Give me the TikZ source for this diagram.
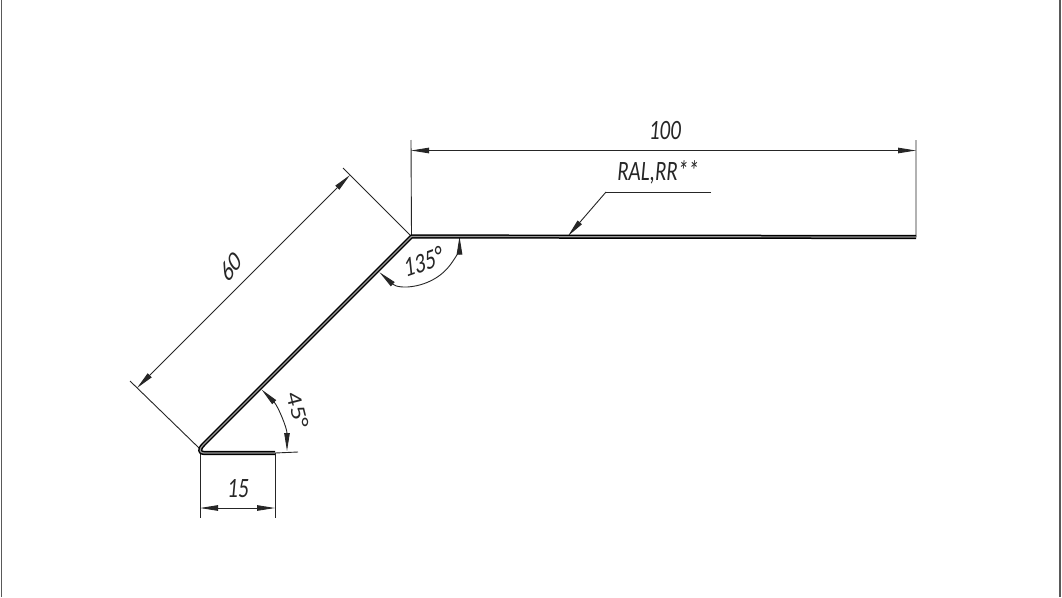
\documentclass[tikz,border=0pt]{standalone}
\usepackage{fontspec}
\setmainfont{Carlito}
\usetikzlibrary{arrows.meta}
\tikzset{
  thinline/.style={line width=0.9pt,draw=black!85},
  dimline/.style={thinline,{Stealth[length=18pt,width=5.5pt,inset=0pt]}-{Stealth[length=18pt,width=5.5pt,inset=0pt]}},
  onetip/.style={thinline,-{Stealth[length=18pt,width=5.5pt,inset=0pt]}},
  profile/.style={line width=1.5pt,draw=black,double=black!40,double distance=1.2pt,line join=round},
  lbl/.style={font=\fontsize{28}{28}\selectfont\itshape,text=black!85,inner sep=0pt,xscale=0.75}
}
\begin{document}
\begin{tikzpicture}[x=1pt,y=-1pt]
\useasboundingbox (0,0) rectangle (1062,597);
\fill[white] (0,0) rectangle (1062,597);
\draw[line width=1.5pt,draw=black!65] (1.5,0) -- (1.5,597) (1060,0) -- (1060,597);
% reference points
\coordinate (bend) at (411.5,236.5);
\coordinate (rend) at (916,237);
\coordinate (foot) at (200,450);
\coordinate (fend) at (275,453);
\coordinate (a100l) at (411,150.5);
\coordinate (a100r) at (916,150.5);
\coordinate (e100l) at (411,140);
\coordinate (e100r) at (916,140);
\coordinate (e60t) at (343,168);
\coordinate (e60b) at (130,381);
\coordinate (e60f) at (199,448);
\coordinate (a60t) at (350,175);
\coordinate (a60b) at (137,388);
\coordinate (e15l) at (200,453);
\coordinate (e15r) at (275,453);
\coordinate (b15l) at (200,518);
\coordinate (b15r) at (275,518);
\coordinate (a15l) at (200,508);
\coordinate (a15r) at (275,508);
\coordinate (e45) at (298,452);
\coordinate (lead) at (568,236);
\coordinate (knee) at (606,192);
\coordinate (shelf) at (711,192);
% extension lines
\draw[thinline] (e100l) -- (bend) (e100r) -- (rend);
\draw[thinline] (e60t) -- (bend) (e60b) -- (e60f);
\draw[thinline] (e15l) -- (b15l) (e15r) -- (b15r);
\draw[thinline] (fend) -- (e45);
% dimension lines
\draw[dimline] (a100l) -- (a100r);
\draw[dimline] (a60t) -- (a60b);
\draw[dimline] (a15l) -- (a15r);
% angle arcs
\coordinate (c45) at (200,451);
\coordinate (c135) at (411.5,236.5);
\draw[dimline] ([shift={(45:87pt)}]c45) arc[start angle=45,end angle=0,radius=87pt];
\draw[dimline] ([shift={(228:48pt)}]c135) arc[start angle=228,end angle=360,radius=48pt];
% leader
\draw[thinline] (shelf) -- (knee);
\draw[onetip] (knee) -- (lead);
% profile
\draw[profile] (rend) -- (bend) -- (203.5,444.5) .. controls (198,450) and (200,453) .. (204,453) -- (fend);
% labels
\node[lbl] (t100) at (665,131) {100};
\node[lbl] (tral) at (658,172) {RAL,RR**};
\node[lbl,rotate=45] (t60) at (231,267) {60};
\node[lbl,rotate=15] (t135) at (423,262) {135°};
\node[lbl,rotate=-72] (t45) at (298,410) {45°};
\node[lbl] (t15) at (238,489) {15};
\end{tikzpicture}
\end{document}
